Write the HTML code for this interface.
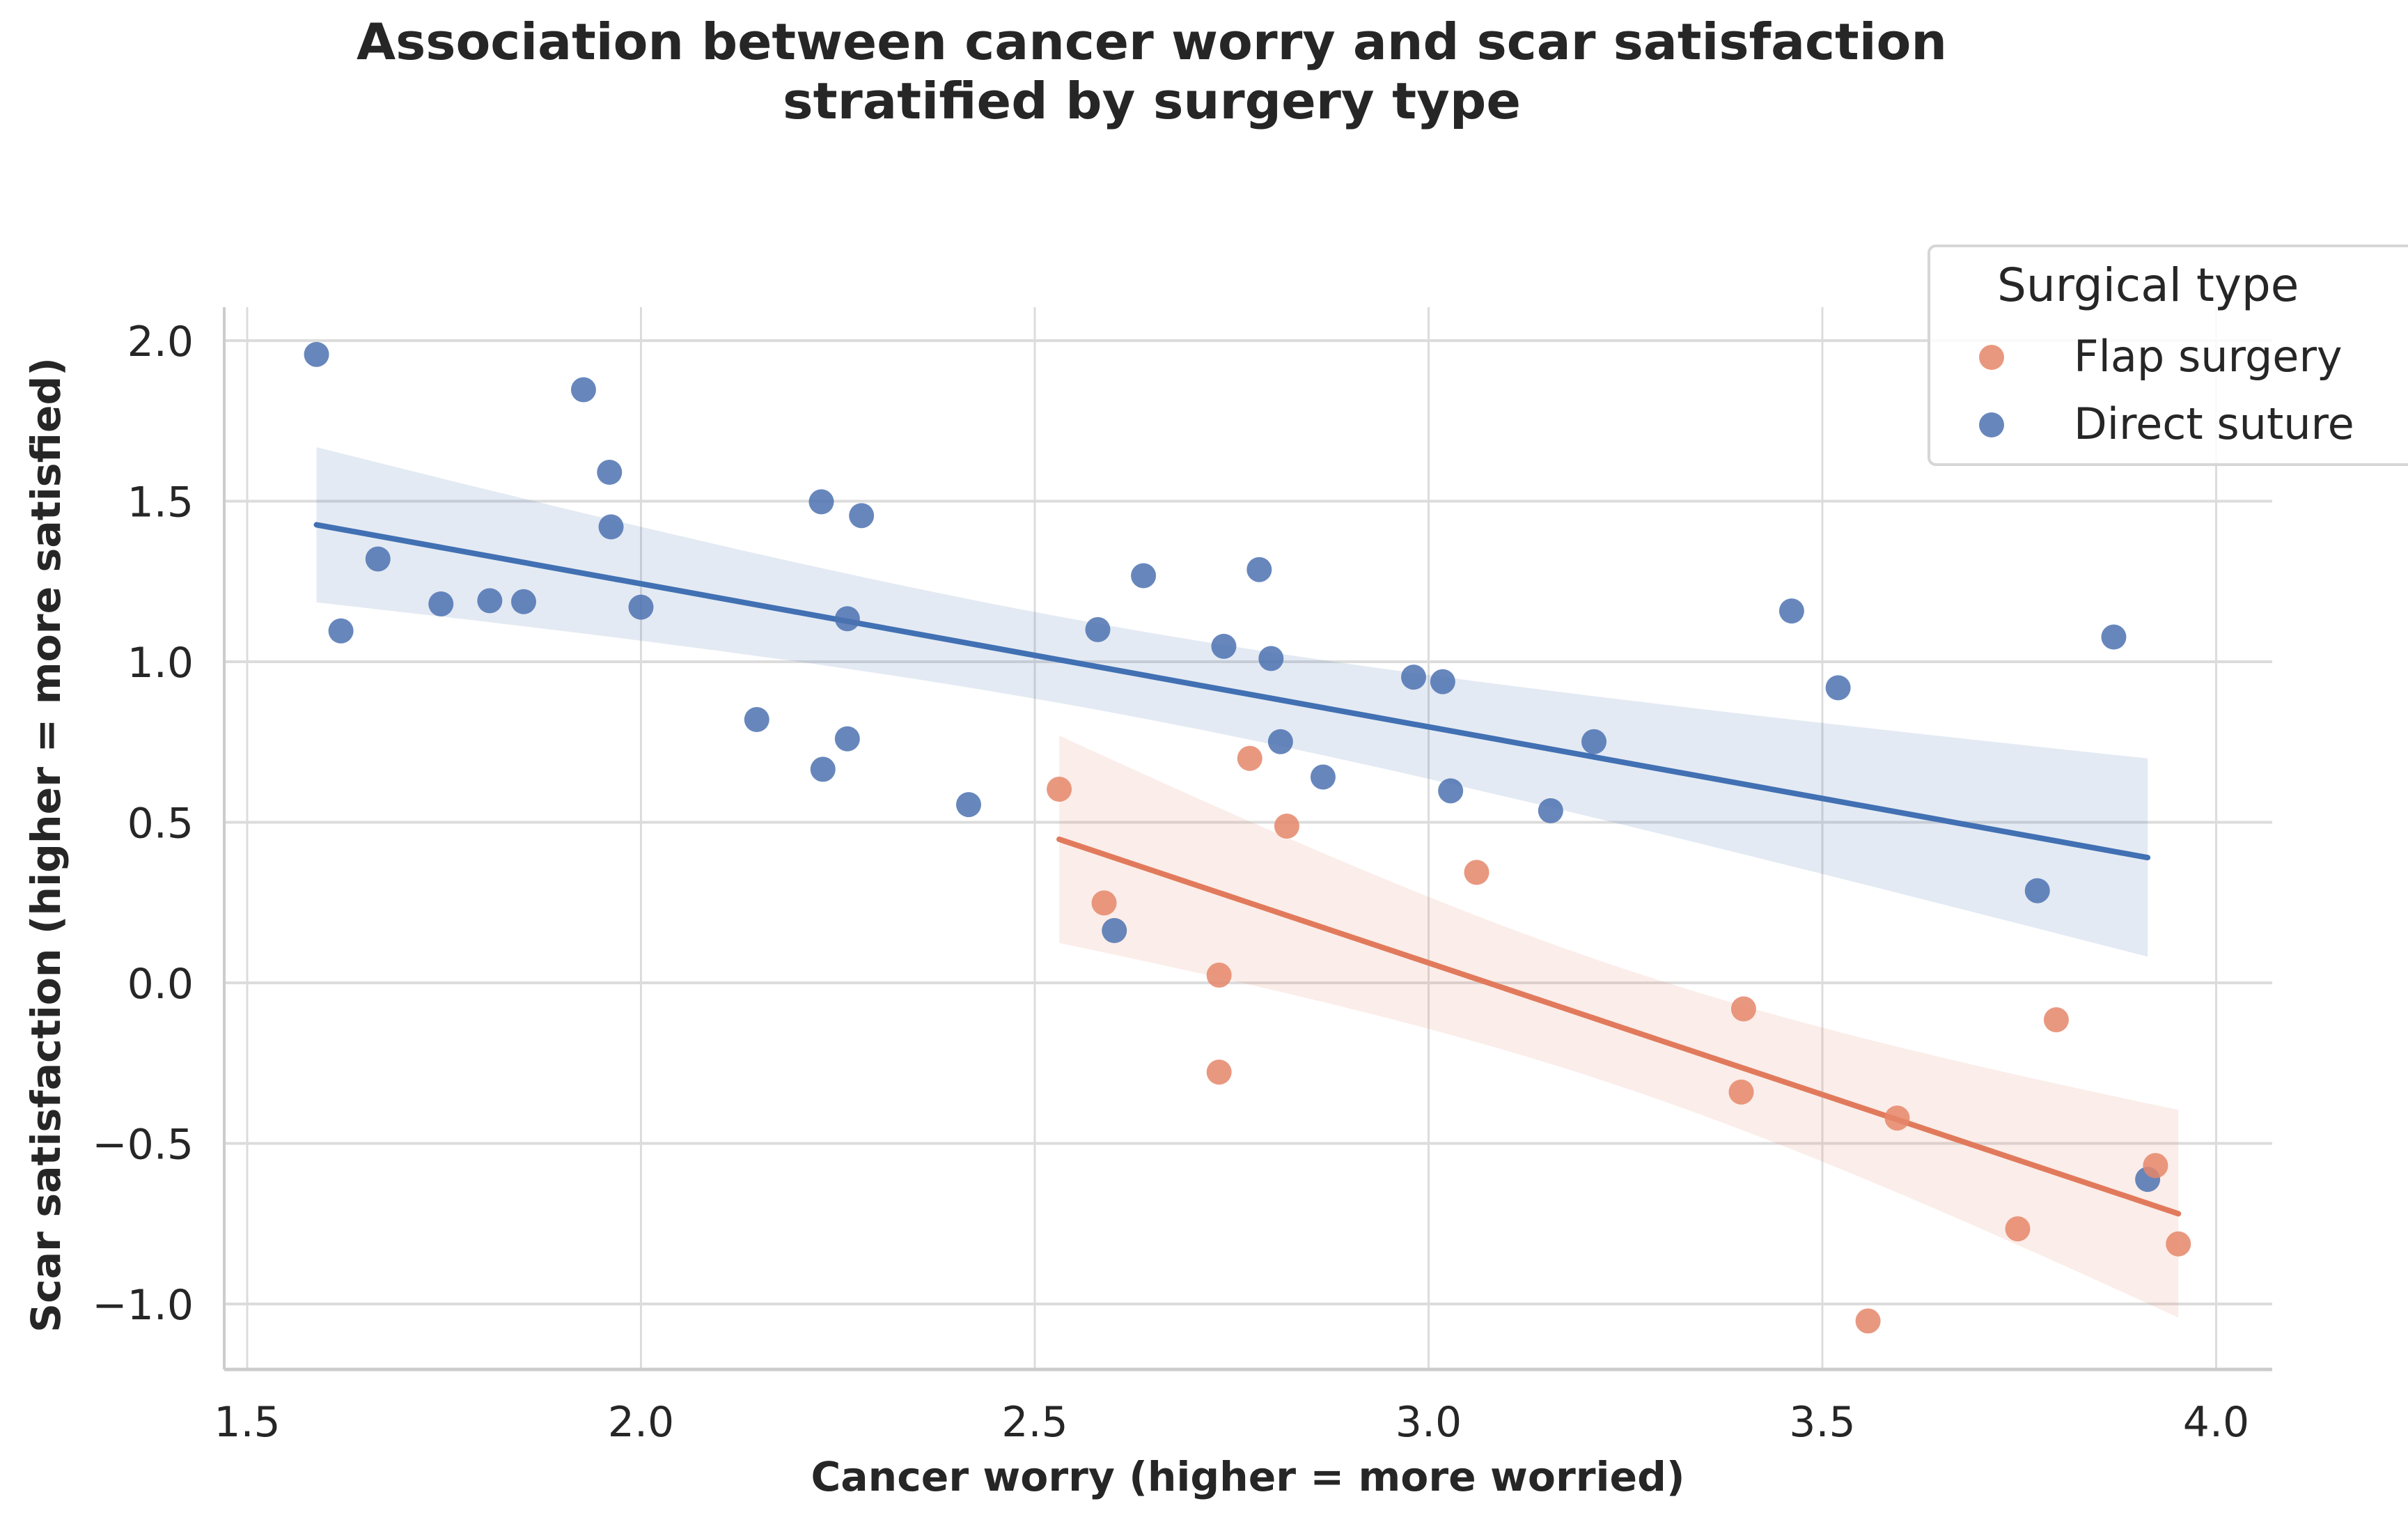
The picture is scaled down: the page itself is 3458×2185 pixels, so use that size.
<!DOCTYPE html>
<html><head><meta charset="utf-8"><style>
html,body{margin:0;padding:0;background:#fff;}
svg{display:block;font-family:"DejaVu Sans","Liberation Sans",sans-serif;}
</style></head><body>
<svg id="chart" width="3458" height="2185" viewBox="0 0 3458 2185">
<g id="grid"></g>
<g id="bands"></g>
<g id="lines"></g>
<g id="points"></g>
<g id="axes"></g>
<text x="1654" y="85" text-anchor="middle" font-size="72" font-weight="bold" fill="#262626" textLength="2284" lengthAdjust="spacingAndGlyphs">Association between cancer worry and scar satisfaction</text>
<text x="1654" y="170" text-anchor="middle" font-size="72" font-weight="bold" fill="#262626" textLength="1060" lengthAdjust="spacingAndGlyphs">stratified by surgery type</text>
<text x="1792" y="2140" text-anchor="middle" font-size="58" font-weight="bold" fill="#262626" textLength="1255" lengthAdjust="spacingAndGlyphs">Cancer worry (higher = more worried)</text>
<text transform="translate(86,1213) rotate(-90)" text-anchor="middle" font-size="58" font-weight="bold" fill="#262626" textLength="1400" lengthAdjust="spacingAndGlyphs">Scar satisfaction (higher = more satisfied)</text>
<g>
<rect x="2770" y="353" width="710" height="314" rx="10" fill="#fff" fill-opacity="0.85" stroke="#d6d6d6" stroke-width="4"/>
<text x="2868" y="432" font-size="66" fill="#262626">Surgical type</text>
<circle cx="2860" cy="513" r="18" fill="#e5866a" fill-opacity="0.85"/>
<text x="2978" y="533" font-size="62" fill="#262626">Flap surgery</text>
<circle cx="2860" cy="610" r="18" fill="#4c72b0" fill-opacity="0.85"/>
<text x="2978" y="630" font-size="62" fill="#262626">Direct suture</text>
</g>
</svg>
<script>
const xTicks = [1.5, 2.0, 2.5, 3.0, 3.5, 4.0];
const xTickLabels = ["1.5", "2.0", "2.5", "3.0", "3.5", "4.0"];
const yTicks = [2.0, 1.5, 1.0, 0.5, 0.0, -0.5, -1.0];
const yTickLabels = ["2.0", "1.5", "1.0", "0.5", "0.0", "\u22120.5", "\u22121.0"];
const directX = [1.588,1.619,1.666,1.746,1.808,1.851,1.927,1.960,1.962,2.000,2.147,2.229,2.231,2.262,2.262,2.280,2.416,2.580,2.601,2.638,2.740,2.785,2.800,2.812,2.866,2.981,3.018,3.028,3.155,3.210,3.461,3.520,3.773,3.870,3.913];
const directY = [1.957,1.096,1.320,1.180,1.190,1.187,1.847,1.590,1.420,1.170,0.820,1.498,0.665,1.134,0.760,1.455,0.555,1.100,0.163,1.268,1.048,1.287,1.010,0.751,0.641,0.952,0.938,0.598,0.536,0.751,1.158,0.919,0.287,1.077,-0.612];
const flapX = [2.531,2.588,2.734,2.734,2.773,2.820,3.061,3.400,3.397,3.558,3.595,3.748,3.797,3.923,3.952];
const flapY = [0.603,0.249,0.024,-0.278,0.699,0.488,0.344,-0.081,-0.340,-1.053,-0.421,-0.766,-0.115,-0.569,-0.813];

const NS = "http://www.w3.org/2000/svg";
const X0 = 355, XPU = 1131, Y0 = 489, YPU = 461;
function sx(v){ return X0 + (v - 1.5) * XPU; }
function sy(v){ return Y0 + (2.0 - v) * YPU; }
function mk(tag, attrs, parent){
  const e = document.createElementNS(NS, tag);
  for (const k in attrs) e.setAttribute(k, attrs[k]);
  parent.appendChild(e);
  return e;
}
const grid = document.getElementById('grid');
const axes = document.getElementById('axes');
const PL = 322, PR = 3263, PT = 441, PB = 1966;
xTicks.forEach((t, i) => {
  const g = mk('line', {x1: sx(t), x2: sx(t), y1: PT, y2: PB, stroke: '#dcdcdc', 'stroke-width': 3}, grid);
  
  
  const l = mk('text', {x: sx(t), y: 2062, 'text-anchor': 'middle', 'font-size': 60, fill: '#262626'}, axes);
  l.textContent = xTickLabels[i];
  
  
});
yTicks.forEach((t, i) => {
  const g = mk('line', {x1: PL, x2: PR, y1: sy(t), y2: sy(t), stroke: '#dcdcdc', 'stroke-width': 4}, grid);
  
  
  const l = mk('text', {x: 278, y: sy(t) + 22, 'text-anchor': 'end', 'font-size': 60, fill: '#262626'}, axes);
  l.textContent = yTickLabels[i];
  
  
});
const sl = mk('line', {x1: PL, x2: PL, y1: PT, y2: PB, stroke: '#cccccc', 'stroke-width': 4}, axes);


const sb = mk('line', {x1: PL, x2: PR, y1: PB, y2: PB, stroke: '#cccccc', 'stroke-width': 5}, axes);



function fit(xs, ys){
  const n = xs.length;
  const mx = xs.reduce((a,b)=>a+b,0)/n, my = ys.reduce((a,b)=>a+b,0)/n;
  let sxx = 0, sxy = 0;
  for (let i=0;i<n;i++){ sxx += (xs[i]-mx)**2; sxy += (xs[i]-mx)*(ys[i]-my); }
  const b = sxy/sxx, a = my - b*mx;
  let sse = 0;
  for (let i=0;i<n;i++){ sse += (ys[i]-a-b*xs[i])**2; }
  const s = Math.sqrt(sse/(n-2));
  return {a, b, s, n, mx, sxx};
}
function drawSeries(xs, ys, lineColor, bandColor, ptColor, name){
  const f = fit(xs, ys);
  const xmin = Math.min(...xs), xmax = Math.max(...xs);
  const N = 60, up = [], lo = [];
  for (let k=0;k<=N;k++){
    const x = xmin + (xmax - xmin)*k/N;
    const yh = f.a + f.b*x;
    const se = f.s*Math.sqrt(1/f.n + (x-f.mx)**2/f.sxx);
    up.push([sx(x), sy(yh + 2.05*se)]);
    lo.push([sx(x), sy(yh - 2.05*se)]);
  }
  const pts = up.concat(lo.reverse()).map(p=>p[0].toFixed(1)+','+p[1].toFixed(1)).join(' ');
  const band = mk('polygon', {points: pts, fill: bandColor, 'fill-opacity': 0.15}, document.getElementById('bands'));
  
  
  const ln = mk('line', {x1: sx(xmin), y1: sy(f.a+f.b*xmin), x2: sx(xmax), y2: sy(f.a+f.b*xmax), stroke: lineColor, 'stroke-width': 8, 'stroke-linecap': 'round'}, document.getElementById('lines'));
  
  
  xs.forEach((x, i) => {
    const c = mk('circle', {cx: sx(x), cy: sy(ys[i]), r: 18, fill: ptColor, 'fill-opacity': 0.85}, document.getElementById('points'));
    
    
  });
}
drawSeries(directX, directY, '#4170b3', '#4c72b0', '#4c72b0', 'direct-suture');
drawSeries(flapX, flapY, '#e17a5c', '#e5866a', '#e5866a', 'flap-surgery');
</script>
</body></html>
